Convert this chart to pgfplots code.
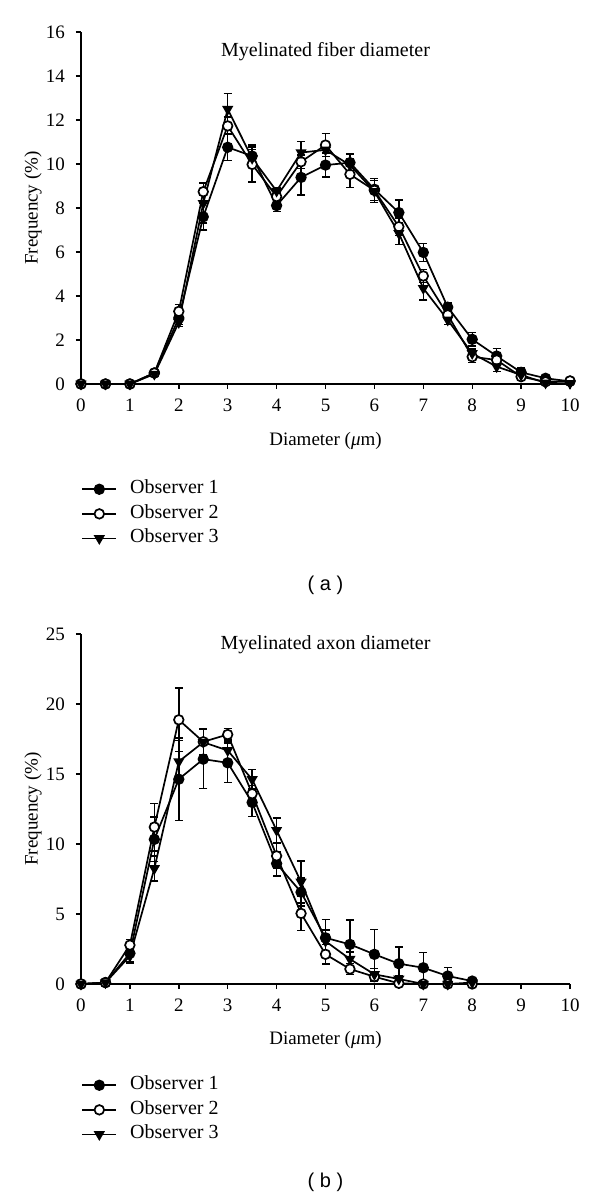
\documentclass[border=0pt]{standalone}
\usepackage{fontspec}
\setmainfont{Liberation Serif}
\newfontfamily\sansf{Liberation Sans}
\usepackage{pgfplots}
\pgfplotsset{compat=1.18}
\usepackage{pgfplotstable}

\pgfplotstableread{
x y e
0 0 0
0.5 0 0
1 0 0
1.5 0.5 0.1
2 3.0 0.3
2.5 7.6 0.6
3 10.76 0.6
3.5 10.36 0.5
4 8.11 0.28
4.5 9.39 0.8
5 9.95 0.55
5.5 10.06 0.4
6 8.85 0.5
6.5 7.79 0.57
7 5.98 0.41
7.5 3.49 0.2
8 2.03 0.3
8.5 1.27 0.35
9 0.53 0.23
9.5 0.26 0.05
10 0.12 0.03
}\fibA
\pgfplotstableread{
x y e
0 0 0
0.5 0 0
1 0 0
1.5 0.5 0.1
2 3.3 0.3
2.5 8.74 0.4
3 11.73 0.4
3.5 9.98 0.8
4 8.52 0.2
4.5 10.1 0.3
5 10.86 0.53
5.5 9.53 0.6
6 8.8 0.45
6.5 7.15 0.4
7 4.91 0.3
7.5 3.14 0.2
8 1.24 0.26
8.5 1.09 0.2
9 0.33 0.15
9.5 0.1 0.05
10 0.14 0.03
}\fibB
\pgfplotstableread{
x y e
0 0 0
0.5 0 0
1 0 0
1.5 0.45 0.1
2 2.8 0.2
2.5 8.21 0.9
3 12.49 0.72
3.5 10.26 0.4
4 8.77 0.15
4.5 10.52 0.5
5 10.64 0.3
5.5 9.95 0.3
6 8.75 0.5
6.5 6.85 0.5
7 4.35 0.53
7.5 2.91 0.2
8 1.39 0.2
8.5 0.79 0.23
9 0.41 0.2
9.5 0.05 0.05
10 0.03 0.03
}\fibC
\pgfplotstableread{
x y e
0 0 0
0.5 0.1 0.05
1 2.19 0.6
1.5 10.33 1.6
2 14.63 2.94
2.5 16.06 2.1
3 15.8 1.42
3.5 12.97 1.0
4 8.6 0.88
4.5 6.56 1.0
5 3.3 1.31
5.5 2.83 1.73
6 2.12 1.78
6.5 1.45 1.2
7 1.16 1.1
7.5 0.57 0.6
8 0.21 0.27
}\axA
\pgfplotstableread{
x y e
0 0 0
0.5 0.1 0.05
1 2.78 0.4
1.5 11.21 1.7
2 18.87 2.28
2.5 17.3 0.9
3 17.82 0.45
3.5 13.59 0.6
4 9.15 0.9
4.5 5.04 1.2
5 2.12 0.7
5.5 1.07 0.4
6 0.52 0.3
6.5 0.05 0.1
7 0 0
7.5 0 0
8 0 0
}\axB
\pgfplotstableread{
x y e
0 0 0
0.5 0.1 0.05
1 2.0 0.5
1.5 8.25 0.9
2 15.89 1.5
2.5 17.27 1.0
3 16.68 0.8
3.5 14.61 0.7
4 10.98 0.88
4.5 7.29 1.5
5 3.06 0.8
5.5 1.78 0.5
6 0.69 0.4
6.5 0.36 0.2
7 0 0
7.5 0 0
8 0.1 0.1
}\axC

\pgfplotsset{
  obs/.style={black, line width=0.85pt, mark size=2.4pt,
    error bars/y dir=both, error bars/y explicit,
    error bars/error bar style={line width=0.7pt, black},
    error bars/error mark options={rotate=90, mark size=2pt, line width=0.7pt, black}},
  common/.style={
    scale only axis, width=244.5pt,
    axis x line*=bottom, axis y line*=left,
    axis line style={line width=0.7pt},
    tick align=outside, major tick length=2.5pt,
    tick style={line width=0.7pt, black},
    xmin=0, xmax=10, xtick={0,1,...,10},
    clip=false,
    /pgf/number format/assume math mode=true,
    ticklabel style={font=\fontsize{9.5}{11}\selectfont},
    xticklabel style={yshift=-1.5pt},
    yticklabel style={xshift=-2pt},
    label style={font=\fontsize{9.5}{11}\selectfont},
    xlabel={Diameter (\textit{μ}m)},
    ylabel={Frequency (\%)},
    ylabel style={at={(axis description cs:-0.098,0.5)}, anchor=center},
    legend cell align=left,
  },
}

\begin{document}
\begin{tikzpicture}
\useasboundingbox (0,0) rectangle (300pt,599pt);
\begin{axis}[common, at={(40.5pt,407pt)}, anchor=south west, height=176pt,
  ymin=0, ymax=16, ytick={0,2,...,16},
  xlabel style={at={(axis description cs:0.5,-0.162)}, anchor=center},
  legend style={draw=none, fill=none, inner sep=0pt, at={(axis description cs:0,-0.263)}, anchor=north west,
    font=\fontsize{10}{12}\selectfont, row sep=0pt,
    nodes={inner ysep=1.4pt, inner xsep=2pt, text height=7pt, text depth=2.5pt}},
]
\addplot+[obs, mark=*, mark options={fill=black, solid}] table[x=x, y=y, y error=e] {\fibA};
\addlegendentry{\hspace{4.5pt}Observer 1}
\addplot+[obs, mark=*, mark options={fill=white, solid}] table[x=x, y=y, y error=e] {\fibB};
\addlegendentry{\hspace{4.5pt}Observer 2}
\addplot+[obs, mark=triangle*, mark options={fill=black, rotate=180, solid}] table[x=x, y=y, y error=e] {\fibC};
\addlegendentry{\hspace{4.5pt}Observer 3}
\node[font=\fontsize{10}{12}\selectfont] at (axis description cs:0.5,0.943) {Myelinated fiber diameter};
\node[font=\sansf\fontsize{10}{12}\selectfont] at (axis description cs:0.5,-0.571) {( a )};
\end{axis}

\begin{axis}[common, at={(40.5pt,107pt)}, anchor=south west, height=175pt,
  ymin=0, ymax=25, ytick={0,5,...,25},
  xlabel style={at={(axis description cs:0.5,-0.16)}, anchor=center},
  legend style={draw=none, fill=none, inner sep=0pt, at={(axis description cs:0,-0.253)}, anchor=north west,
    font=\fontsize{10}{12}\selectfont, row sep=0pt,
    nodes={inner ysep=1.4pt, inner xsep=2pt, text height=7pt, text depth=2.5pt}},
]
\addplot+[obs, mark=*, mark options={fill=black, solid}] table[x=x, y=y, y error=e] {\axA};
\addlegendentry{\hspace{4.5pt}Observer 1}
\addplot+[obs, mark=*, mark options={fill=white, solid}] table[x=x, y=y, y error=e] {\axB};
\addlegendentry{\hspace{4.5pt}Observer 2}
\addplot+[obs, mark=triangle*, mark options={fill=black, rotate=180, solid}] table[x=x, y=y, y error=e] {\axC};
\addlegendentry{\hspace{4.5pt}Observer 3}
\node[font=\fontsize{10}{12}\selectfont] at (axis description cs:0.5,0.969) {Myelinated axon diameter};
\node[font=\sansf\fontsize{10}{12}\selectfont] at (axis description cs:0.5,-0.566) {( b )};
\end{axis}
\end{tikzpicture}
\end{document}
